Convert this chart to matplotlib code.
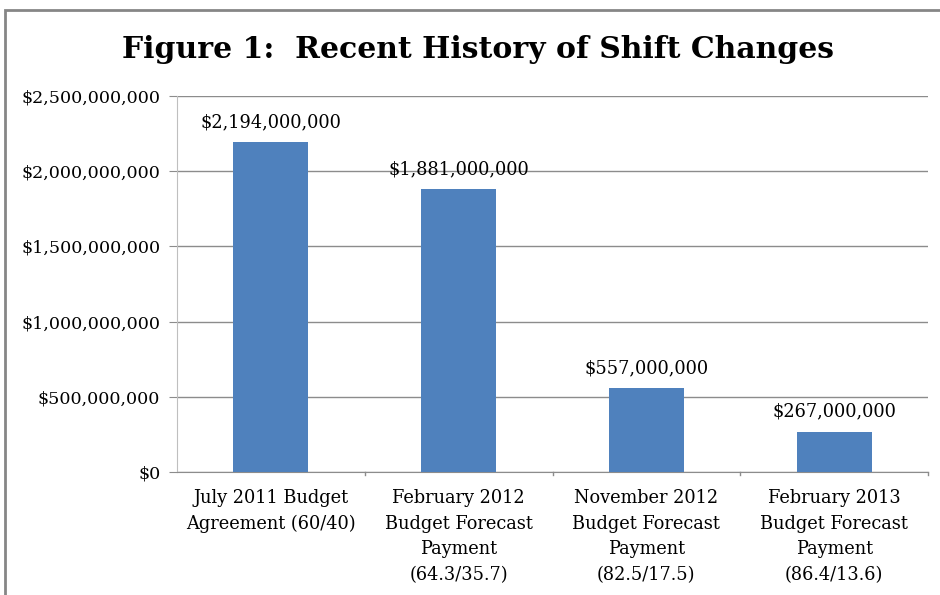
import matplotlib.pyplot as plt
from matplotlib.patches import Rectangle
from matplotlib.ticker import FuncFormatter

# 数据
categories = [
    "July 2011 Budget\nAgreement (60/40)",
    "February 2012\nBudget Forecast\nPayment\n(64.3/35.7)",
    "November 2012\nBudget Forecast\nPayment\n(82.5/17.5)",
    "February 2013\nBudget Forecast\nPayment\n(86.4/13.6)",
]
values = [2194000000, 1881000000, 557000000, 267000000]
y_ticks = [0, 500000000, 1000000000, 1500000000, 2000000000, 2500000000]

bar_color = "#4F81BD"
grid_color = "#8C8C8C"

plt.rcParams['font.family'] = ['DejaVu Serif']

fig = plt.figure(figsize=(9.4, 5.95), dpi=100)
ax = fig.add_axes([177 / 940, 1 - 472 / 595, (928 - 177) / 940, (472 - 96) / 595])

x = list(range(len(categories)))
ax.bar(x, values, width=0.4, color=bar_color, zorder=3)

for xi, v in zip(x, values):
    ax.annotate("${:,.0f}".format(v), (xi, v), xytext=(0, 8), textcoords="offset points",
                ha="center", va="bottom", fontsize=12.8)

ax.set_xlim(-0.5, len(categories) - 0.5)
ax.set_ylim(0, 2500000000)
ax.set_yticks(y_ticks)
ax.yaxis.set_major_formatter(FuncFormatter(lambda v, p: "${:,.0f}".format(v)))
ax.yaxis.grid(True, color=grid_color, linewidth=1, zorder=0)

ax.set_xticks(x)
ax.set_xticklabels(categories, fontsize=12.8, linespacing=1.56)
ax.tick_params(axis="x", length=0, pad=12)
ax.tick_params(axis="y", length=6, color=grid_color, labelsize=12.6, pad=6)

# x 轴在类别边界处的刻度线
for b in [0.5, 1.5, 2.5, 3.5]:
    ax.plot([b, b], [0, -0.008], transform=ax.get_xaxis_transform(), color=grid_color,
            linewidth=1, clip_on=False)

for s in ["top", "right"]:
    ax.spines[s].set_visible(False)
ax.spines["left"].set_color("#BFBFBF")
ax.spines["bottom"].set_color(grid_color)

fig.text(478 / 940, 1 - 50 / 595, "Figure 1:  Recent History of Shift Changes",
         ha="center", va="center", fontsize=21.5, fontweight="bold")

# 外框
fig.patches.append(Rectangle((5 / 940, -0.1), 1.2, 1 - 10 / 595 + 0.1, transform=fig.transFigure,
                             fill=False, edgecolor="#868686", linewidth=2))

fig.savefig("out.png", dpi=100)
